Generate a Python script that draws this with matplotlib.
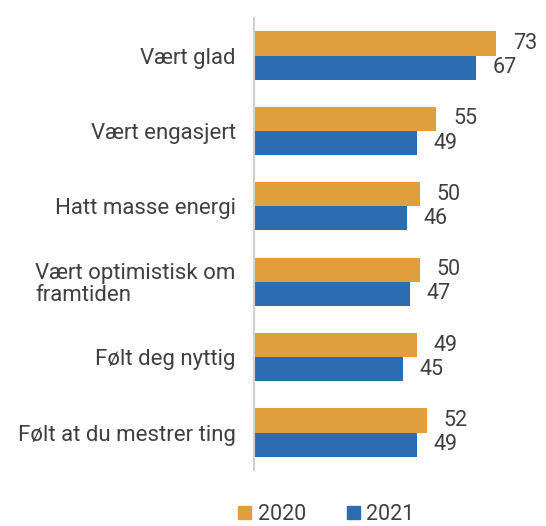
#!/usr/bin/env python3
"""Horizontal grouped bars, 2020 vs 2021."""

import matplotlib.pyplot as plt
from matplotlib.patches import Patch

plt.rcParams["font.family"] = ["Roboto", "DejaVu Sans"]

CATEGORIES = [
    "Vært glad",
    "Vært engasjert",
    "Hatt masse energi",
    "Vært optimistisk om\nframtiden",
    "Følt deg nyttig",
    "Følt at du mestrer ting",
]
VALUES_2020 = [73, 55, 50, 50, 49, 52]
VALUES_2021 = [67, 49, 46, 47, 45, 49]
SERIES = ["2020", "2021"]

ORANGE = "#E09F3A"
BLUE = "#2B6CB3"
TEXT = "#404040"


def main() -> None:
    fig = plt.figure(figsize=(5.46, 5.26), dpi=100)
    ax = fig.add_axes([0.465, 0.106, 0.535, 0.86])

    y = list(range(len(CATEGORIES)))
    h = 0.32
    y20 = [v - h / 2 for v in y]
    y21 = [v + h / 2 for v in y]

    ax.barh(y20, VALUES_2020, height=h, color=ORANGE)
    ax.barh(y21, VALUES_2021, height=h, color=BLUE)

    for yy, v in zip(y20, VALUES_2020):
        ax.text(v + 5, yy, str(v), va="center", ha="left", fontsize=15.5, color=TEXT)
    for yy, v in zip(y21, VALUES_2021):
        ax.text(v + 5, yy, str(v), va="center", ha="left", fontsize=15.5, color=TEXT)

    ax.set_xlim(0, 88)
    ax.set_ylim(len(CATEGORIES) - 0.5, -0.5)
    ax.set_yticks(y)
    ax.set_yticklabels(CATEGORIES, fontsize=16, color=TEXT, linespacing=1.05)
    # multi-line labels are left aligned within their block in the original
    for lbl in ax.get_yticklabels():
        lbl.set_multialignment("left")
    ax.tick_params(axis="y", length=0, pad=13)
    ax.set_xticks([])

    for side in ["top", "right", "bottom"]:
        ax.spines[side].set_visible(False)
    ax.spines["left"].set_color("#D0D0D0")
    ax.spines["left"].set_linewidth(1.5)

    handles = [Patch(color=ORANGE), Patch(color=BLUE)]
    fig.legend(
        handles, SERIES, loc="center", bbox_to_anchor=(0.598, 0.022),
        ncol=2, frameon=False, fontsize=15.5, handlelength=0.6, handleheight=0.6,
        handletextpad=0.3, columnspacing=1.9, labelcolor=TEXT,
        borderpad=0.1,
    )

    fig.savefig("out.png", dpi=100)
    plt.close(fig)


if __name__ == "__main__":
    main()
